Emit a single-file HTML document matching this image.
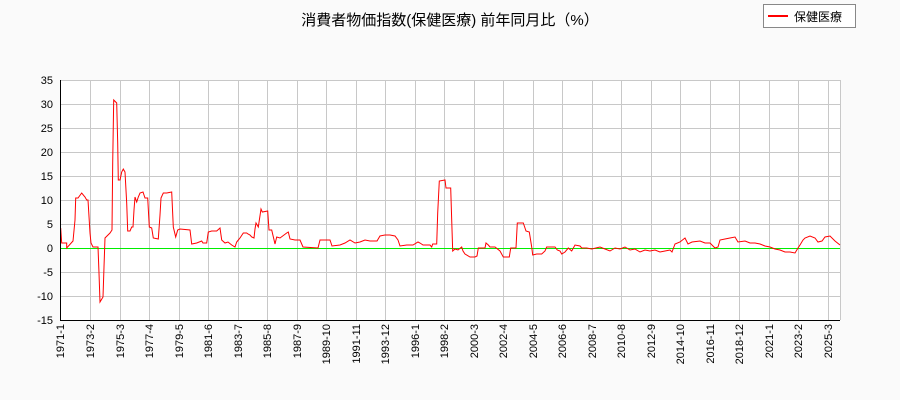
<!DOCTYPE html>
<html><head><meta charset="utf-8"><style>
body{margin:0;background:#fafafa;}
svg{display:block;font-family:"Liberation Sans","Noto Sans CJK JP",sans-serif;}
</style></head><body>
<svg width="900" height="400" xmlns="http://www.w3.org/2000/svg">
<rect width="900" height="400" fill="#fafafa"/>
<rect x="60" y="80" width="780" height="240" fill="#fff"/>
<g stroke="#c8c8c8" stroke-width="1">
<line x1="60" y1="80.5" x2="840" y2="80.5"/><line x1="60" y1="104.5" x2="840" y2="104.5"/>
<line x1="60" y1="128.5" x2="840" y2="128.5"/><line x1="60" y1="152.5" x2="840" y2="152.5"/>
<line x1="60" y1="176.5" x2="840" y2="176.5"/><line x1="60" y1="200.5" x2="840" y2="200.5"/>
<line x1="60" y1="224.5" x2="840" y2="224.5"/><line x1="60" y1="272.5" x2="840" y2="272.5"/>
<line x1="60" y1="296.5" x2="840" y2="296.5"/>
<line x1="90.5" y1="80" x2="90.5" y2="320"/><line x1="120.5" y1="80" x2="120.5" y2="320"/>
<line x1="149.5" y1="80" x2="149.5" y2="320"/><line x1="179.5" y1="80" x2="179.5" y2="320"/>
<line x1="208.5" y1="80" x2="208.5" y2="320"/><line x1="238.5" y1="80" x2="238.5" y2="320"/>
<line x1="267.5" y1="80" x2="267.5" y2="320"/><line x1="297.5" y1="80" x2="297.5" y2="320"/>
<line x1="326.5" y1="80" x2="326.5" y2="320"/><line x1="356.5" y1="80" x2="356.5" y2="320"/>
<line x1="385.5" y1="80" x2="385.5" y2="320"/><line x1="415.5" y1="80" x2="415.5" y2="320"/>
<line x1="444.5" y1="80" x2="444.5" y2="320"/><line x1="474.5" y1="80" x2="474.5" y2="320"/>
<line x1="503.5" y1="80" x2="503.5" y2="320"/><line x1="533.5" y1="80" x2="533.5" y2="320"/>
<line x1="562.5" y1="80" x2="562.5" y2="320"/><line x1="592.5" y1="80" x2="592.5" y2="320"/>
<line x1="621.5" y1="80" x2="621.5" y2="320"/><line x1="651.5" y1="80" x2="651.5" y2="320"/>
<line x1="680.5" y1="80" x2="680.5" y2="320"/><line x1="710.5" y1="80" x2="710.5" y2="320"/>
<line x1="739.5" y1="80" x2="739.5" y2="320"/><line x1="769.5" y1="80" x2="769.5" y2="320"/>
<line x1="798.5" y1="80" x2="798.5" y2="320"/><line x1="828.5" y1="80" x2="828.5" y2="320"/>
<line x1="840.5" y1="80" x2="840.5" y2="320"/>
</g>
<line x1="60" y1="248.5" x2="840" y2="248.5" stroke="#00ee00" stroke-width="1"/>
<polyline fill="none" stroke="#ff0000" stroke-width="1" points="60.7,228 61.7,243 66.7,243 66.7,248 73,241 75,220 75.7,198 78,198 81.7,193 85,197 86.7,200 88,200 90,233 91,243 93,247 98,247 99,273 100,302 103,297 104,267 105,238 110,233 112,230 112.7,163 113.7,100 116.7,103 117.7,143 118.3,180 120,180 121.7,172 123.3,169 125,172 126.7,203 127.7,231 130,231 131.7,227 133,227 134,210 135,197 136.7,202 138.3,197 140,193 143,192 145,198 147.7,198 149.3,227 151.7,228 153.3,238 158.3,239 160,215 161,198 163.3,193 166.7,193 171.7,192 173.3,227 175.7,237 177.7,230 180,229 190,230 191.7,244 196.7,243 201.7,241 203,243 206.7,243 208.3,232 211.7,231 216.7,231 220,228 221.7,240 225,243 228,242 231.7,245 235,247 236.7,242 240,238 243.3,233 246.7,233 248,234 250,235 251.7,237 254,238 255,229 256,223 258.3,227 261,209 262.3,212 267.7,211 269,230 271.7,230 275,244 276.7,237 280,238 286.7,233 288.3,232 290,239 295,240 300,240 303,247 318,248 320,240 330,240 332,246 340,245 345,243 350,240 355,243 360,242 365,240 370,241 377,241 380,236 385,235 390,235 395,236 398,240 400,246 406.7,245 413,245 418,242 420,243 423,245 430,245 431.7,247 432.7,244 436.7,244 437.7,213 439.3,181 445,180 446,188 450.7,188 451.7,220 452.7,251 455,249 458,250 461.7,247 463,251 465,254 470,257 475,257 477,256 478.3,248 485,248 486,243 488.3,245 490,247 495,247 500,251 503.3,257 509.3,257 510.7,248 516,248 517.3,223 523.3,223 526,231 529.3,232 531.7,247 532.7,255 536.7,254 541.7,254 545,251 546.7,247 550,247 555,247 557.3,250 560,251 561.7,254 565,252 568.3,248 571.7,251 575,245 580,246 581.7,248 586.7,248 591.7,249 600,247 605,249 610,251 615,248 620,249 625,247 630,250 635,249 640,252 645,250 650,251 655,250 660,252 665,251 670,250 672,252 675,244 680,242 685,238 688,244 692,242 700,241 705,243 710,243 715,248 718,247 720,240 725,239 730,238 735,237 738,242 745,241 750,243 755,243 760,244 765,246 770,247 775,249 780,250 785,252 790,252 795,253 798,248 800,245 803,240 805,238 810,236 815,238 818,242 822,241 825,237 830,236 835,241 840,245"/>
<g stroke="#000" stroke-width="1">
<line x1="60.5" y1="80" x2="60.5" y2="320"/>
<line x1="60" y1="320.5" x2="840" y2="320.5"/>
</g>
<g font-size="11" fill="#000" text-anchor="end">
<text x="53" y="84">35</text><text x="53" y="108">30</text><text x="53" y="132">25</text>
<text x="53" y="156">20</text><text x="53" y="180">15</text><text x="53" y="204">10</text>
<text x="53" y="228">5</text><text x="53" y="252">0</text><text x="53" y="276">-5</text>
<text x="53" y="300">-10</text><text x="53" y="324">-15</text>
</g>
<g font-size="11" fill="#000" text-anchor="end">
<text transform="translate(64,324) rotate(-90)">1971-1</text>
<text transform="translate(94,324) rotate(-90)">1973-2</text>
<text transform="translate(124,324) rotate(-90)">1975-3</text>
<text transform="translate(153,324) rotate(-90)">1977-4</text>
<text transform="translate(183,324) rotate(-90)">1979-5</text>
<text transform="translate(212,324) rotate(-90)">1981-6</text>
<text transform="translate(242,324) rotate(-90)">1983-7</text>
<text transform="translate(271,324) rotate(-90)">1985-8</text>
<text transform="translate(301,324) rotate(-90)">1987-9</text>
<text transform="translate(330,324) rotate(-90)">1989-10</text>
<text transform="translate(360,324) rotate(-90)">1991-11</text>
<text transform="translate(389,324) rotate(-90)">1993-12</text>
<text transform="translate(419,324) rotate(-90)">1996-1</text>
<text transform="translate(448,324) rotate(-90)">1998-2</text>
<text transform="translate(478,324) rotate(-90)">2000-3</text>
<text transform="translate(507,324) rotate(-90)">2002-4</text>
<text transform="translate(537,324) rotate(-90)">2004-5</text>
<text transform="translate(566,324) rotate(-90)">2006-6</text>
<text transform="translate(596,324) rotate(-90)">2008-7</text>
<text transform="translate(625,324) rotate(-90)">2010-8</text>
<text transform="translate(655,324) rotate(-90)">2012-9</text>
<text transform="translate(684,324) rotate(-90)">2014-10</text>
<text transform="translate(714,324) rotate(-90)">2016-11</text>
<text transform="translate(743,324) rotate(-90)">2018-12</text>
<text transform="translate(773,324) rotate(-90)">2021-1</text>
<text transform="translate(802,324) rotate(-90)">2023-2</text>
<text transform="translate(832,324) rotate(-90)">2025-3</text>
</g>
<text x="450" y="25" font-size="15" text-anchor="middle" fill="#000">消費者物価指数(保健医療) 前年同月比（%）</text>
<rect x="763.5" y="4.5" width="92" height="23" fill="#fff" stroke="#888"/>
<line x1="768" y1="16" x2="788" y2="16" stroke="#ff0000" stroke-width="2"/>
<text x="794" y="21" font-size="12" fill="#000">保健医療</text>
</svg>
</body></html>
